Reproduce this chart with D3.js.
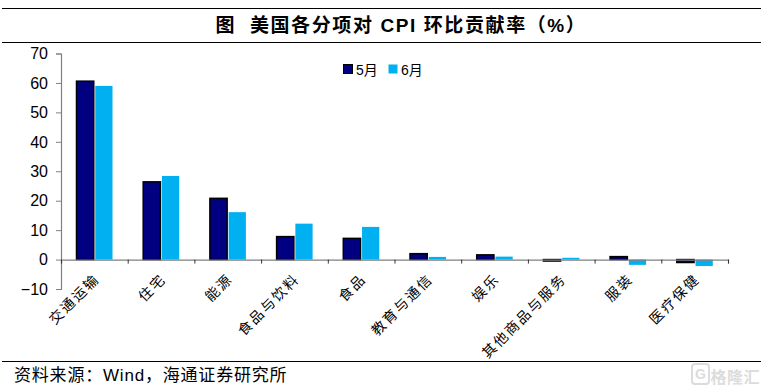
<!DOCTYPE html>
<html>
<head>
<meta charset="utf-8">
<script src="https://cdn.jsdelivr.net/npm/d3@7"></script>
<style>
  html, body { margin: 0; padding: 0; background: #fff; }
  svg { display: block; }
  text { font-family: "Liberation Sans", "Noto Sans CJK SC", sans-serif; fill: #000; }
</style>
</head>
<body>
<svg id="viz" width="766" height="389"></svg>
<script>
const categories = ["交通运输", "住宅", "能源", "食品与饮料", "食品", "教育与通信", "娱乐", "其他商品与服务", "服装", "医疗保健"];
const may = [60.6, 26.4, 20.8, 7.8, 7.2, 2.0, 1.6, -0.5, 1.0, -1.0];
const june = [59.0, 28.4, 16.1, 12.2, 11.1, 0.9, 1.0, 0.6, -1.8, -2.2];
const seriesNames = ["5月", "6月"];
const yTicks = [-10, 0, 10, 20, 30, 40, 50, 60, 70];
const titleText = "图  美国各分项对 CPI 环比贡献率（%）";
const sourceText = "资料来源：Wind，海通证券研究所";
const watermark = "格隆汇";

const svg = d3.select("svg#viz");
const colors = d3.scaleOrdinal().domain(seriesNames).range(["#000080", "#00B0F0"]);

const x = d3.scaleBand().domain(categories).range([61, 728]);
const inner = d3.scaleBand().domain(seriesNames).range([15.5, 51.5]).paddingInner(0.08);
const y = d3.scaleLinear().domain([-10, 70]).range([289, 53.5]);

// title and source rules
svg.selectAll("line.rule")
  .data([{ y: 8.5, x2: 761 }, { y: 42.5, x2: 761 }, { y: 361.5, x2: 761 }])
  .join("line")
  .attr("class", "rule")
  .attr("x1", 2).attr("x2", d => d.x2)
  .attr("y1", d => d.y).attr("y2", d => d.y)
  .attr("stroke", "#000").attr("stroke-width", 1.2);

svg.append("text")
  .attr("x", 401).attr("y", 32)
  .attr("text-anchor", "middle")
  .style("font-size", "19px").style("font-weight", "bold")
  .style("letter-spacing", "1.6px")
  .style("white-space", "pre")
  .text(titleText);

// bars
const barG = svg.append("g").attr("id", "bars");
[may, june].forEach((vals, i) => {
  const name = seriesNames[i];
  barG.selectAll(`rect.s${i}`)
    .data(vals)
    .join("rect")
    .attr("class", `s${i}`)
    .attr("x", (d, j) => x(categories[j]) + inner(name))
    .attr("width", inner.bandwidth())
    .attr("y", d => y(Math.max(0, d)))
    .attr("height", d => Math.abs(y(d) - y(0)))
    .attr("fill", colors(name))
    .attr("stroke", i === 0 ? "#000" : "none")
    .attr("stroke-width", 1.5);
});

// axes
const yAxis = d3.axisLeft(y).tickValues(yTicks).tickSize(5).tickPadding(8).tickFormat(d3.format("d"));
const yG = svg.append("g").attr("transform", "translate(61,0)").call(yAxis);
yG.select(".domain").attr("stroke", "#808080").attr("stroke-width", 1.2);
yG.selectAll(".tick line").attr("stroke", "#808080");
yG.selectAll("text").style("font-size", "16px").attr("dy", "0.33em");

const xAxis = d3.axisBottom(d3.scalePoint().domain(d3.range(11)).range([61, 728]))
  .tickSize(4).tickFormat("");
const xG = svg.append("g").attr("transform", `translate(0,${y(0)})`).call(xAxis);
xG.select(".domain").attr("stroke", "#808080").attr("stroke-width", 1.2);
xG.selectAll(".tick line").attr("stroke", "#333");

svg.append("g").selectAll("text")
  .data(categories)
  .join("text")
  .attr("transform", d => `translate(${x(d) + x.bandwidth() / 2 - 2},${y(-10) - 17}) rotate(-45)`)
  .attr("text-anchor", "end")
  .attr("dy", "0.8em")
  .style("font-size", "14px")
  .style("letter-spacing", "2px")
  .text(d => d);

// legend
const legend = svg.append("g").selectAll("g")
  .data(seriesNames)
  .join("g")
  .attr("transform", (d, i) => `translate(${343.5 + i * 45},64.5)`);
legend.append("rect")
  .attr("width", 9).attr("height", 9)
  .attr("fill", d => colors(d))
  .attr("stroke", d => d === "5月" ? "#000" : "none");
legend.append("text")
  .attr("x", 12.5).attr("y", 10)
  .style("font-size", "14px")
  .text(d => d);

svg.append("text")
  .attr("x", 14).attr("y", 381)
  .style("font-size", "17px")
  .style("letter-spacing", "0.8px")
  .text(sourceText);

svg.append("text")
  .attr("x", 760).attr("y", 383)
  .attr("text-anchor", "end")
  .style("font-size", "16px").style("font-weight", "bold")
  .style("letter-spacing", "0.5px")
  .style("fill", "#dcdcdc")
  .text(watermark);
svg.append("rect")
  .attr("x", 692).attr("y", 364).attr("width", 17).attr("height", 20).attr("rx", 3)
  .attr("fill", "none").attr("stroke", "#dcdcdc").attr("stroke-width", 2);
svg.append("text")
  .attr("x", 700.5).attr("y", 379)
  .attr("text-anchor", "middle")
  .style("font-size", "14px").style("font-weight", "bold")
  .style("fill", "#dcdcdc")
  .text("G");
</script>
</body>
</html>
